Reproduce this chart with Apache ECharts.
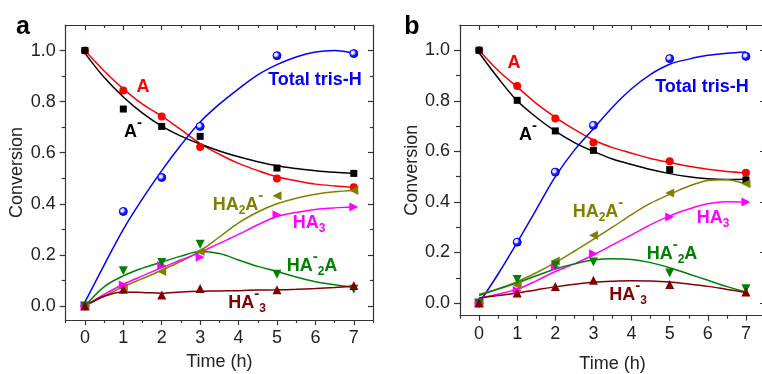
<!DOCTYPE html>
<html>
<head>
<meta charset="utf-8">
<script src="https://cdn.jsdelivr.net/npm/echarts@6/dist/echarts.min.js"></script>
<style>
  html, body { margin: 0; padding: 0; background: #fff; }
  #chart { width: 762px; height: 374px; }
</style>
</head>
<body>
<div id="chart"></div>
<script>
// 时间轴
const pointTime = [0, 1, 2, 3, 5, 7];
const fitTime = [0, 0.5, 1, 1.5, 2, 2.5, 3, 3.5, 4, 4.5, 5, 5.5, 6, 6.5, 7];
const xTicks = [0, 1, 2, 3, 4, 5, 6, 7];
const xMinorTicks = [-0.5, 0.5, 1.5, 2.5, 3.5, 4.5, 5.5, 6.5, 7.5];
const yTicks = [0, 0.2, 0.4, 0.6, 0.8, 1.0];
const yMinorTicks = [0.1, 0.3, 0.5, 0.7, 0.9];

// panel a: measured points
const aA = [1.0, 0.844, 0.742, 0.622, 0.499, 0.465];
const aAminus = [1.0, 0.771, 0.703, 0.664, 0.540, 0.519];
const aTris = [0.0, 0.370, 0.503, 0.703, 0.980, 0.988];
const aHA2A = [0.0, 0.07, 0.135, 0.213, 0.431, 0.452];
const aHA3 = [0.0, 0.082, 0.158, 0.191, 0.357, 0.387];
const aHAm2A = [0.0, 0.138, 0.17, 0.242, 0.124, 0.065];
const aHAm3 = [0.0, 0.065, 0.043, 0.068, 0.063, 0.080];

// panel a: fitted curves (read at half-hour steps)
const aFitA = [1.0, 0.92, 0.85, 0.79, 0.743, 0.69, 0.636, 0.594, 0.558, 0.53, 0.506, 0.49, 0.477, 0.47, 0.465];
const aFitAminus = [0.99, 0.895, 0.818, 0.755, 0.704, 0.665, 0.634, 0.607, 0.584, 0.565, 0.549, 0.538, 0.529, 0.523, 0.519];
const aFitTris = [0.015, 0.16, 0.30, 0.42, 0.53, 0.63, 0.72, 0.79, 0.85, 0.905, 0.945, 0.975, 0.994, 1.0, 0.99];
const aFitHA2A = [0.0, 0.038, 0.075, 0.107, 0.14, 0.175, 0.215, 0.27, 0.325, 0.368, 0.40, 0.422, 0.437, 0.447, 0.452];
const aFitHA3 = [0.0, 0.045, 0.085, 0.118, 0.15, 0.18, 0.21, 0.245, 0.28, 0.318, 0.35, 0.366, 0.378, 0.384, 0.387];
const aFitHAm2A = [0.0, 0.075, 0.118, 0.148, 0.172, 0.195, 0.213, 0.205, 0.18, 0.155, 0.135, 0.113, 0.095, 0.083, 0.073];
const aFitHAm3 = [0.0, 0.038, 0.055, 0.053, 0.05, 0.055, 0.058, 0.059, 0.06, 0.062, 0.063, 0.065, 0.068, 0.072, 0.077];

// panel b: measured points
const bA = [1.0, 0.859, 0.730, 0.635, 0.561, 0.516];
const bAminus = [1.0, 0.802, 0.681, 0.604, 0.528, 0.487];
const bTris = [0.0, 0.241, 0.518, 0.703, 0.967, 0.976];
const bHA2A = [0.0, 0.07, 0.166, 0.268, 0.435, 0.472];
const bHA3 = [0.0, 0.05, 0.143, 0.195, 0.340, 0.40];
const bHAm2A = [0.0, 0.093, 0.15, 0.162, 0.119, 0.057];
const bHAm3 = [0.0, 0.040, 0.066, 0.090, 0.073, 0.044];

// panel b: fitted curves
const bFitA = [1.0, 0.92, 0.855, 0.79, 0.735, 0.687, 0.645, 0.615, 0.593, 0.572, 0.556, 0.541, 0.529, 0.52, 0.515];
const bFitAminus = [0.99, 0.89, 0.80, 0.735, 0.68, 0.635, 0.60, 0.57, 0.548, 0.528, 0.512, 0.50, 0.492, 0.489, 0.49];
const bFitTris = [0.0, 0.115, 0.24, 0.37, 0.50, 0.605, 0.69, 0.775, 0.848, 0.905, 0.945, 0.965, 0.98, 0.988, 0.993];
const bFitHA2A = [0.035, 0.057, 0.085, 0.12, 0.16, 0.205, 0.252, 0.30, 0.35, 0.395, 0.43, 0.462, 0.485, 0.488, 0.47];
const bFitHA3 = [0.02, 0.035, 0.055, 0.088, 0.125, 0.155, 0.19, 0.23, 0.27, 0.31, 0.345, 0.372, 0.393, 0.401, 0.40];
const bFitHAm2A = [0.03, 0.055, 0.08, 0.108, 0.135, 0.155, 0.17, 0.175, 0.172, 0.16, 0.14, 0.115, 0.09, 0.065, 0.044];
const bFitHAm3 = [0.02, 0.03, 0.04, 0.052, 0.064, 0.074, 0.082, 0.086, 0.088, 0.087, 0.083, 0.075, 0.066, 0.054, 0.042];

const FONT = '"Liberation Sans", Arial, sans-serif';
const AXIS = '#333';

// 样式
const blueBall = {
  type: 'radial', x: 0.38, y: 0.38, r: 0.62,
  colorStops: [
    { offset: 0, color: '#ffffff' },
    { offset: 0.3, color: '#d8d8ff' },
    { offset: 0.55, color: '#2020ff' },
    { offset: 1, color: '#0000c8' }
  ]
};
const species = [
  { key: 'A', color: '#ff0000', symbol: 'circle', rotate: 0, size: 8 },
  { key: 'Aminus', color: '#000000', symbol: 'rect', rotate: 0, size: 7 },
  { key: 'Tris', color: '#0000ff', fill: blueBall, symbol: 'circle', rotate: 0, size: 8 },
  { key: 'HA2A', color: '#808000', symbol: 'triangle', rotate: 90, size: 9 },
  { key: 'HA3', color: '#ff00ff', symbol: 'triangle', rotate: -90, size: 9 },
  { key: 'HAm2A', color: '#008000', symbol: 'triangle', rotate: 180, size: 9 },
  { key: 'HAm3', color: '#800000', symbol: 'triangle', rotate: 0, size: 9 }
];
const panelData = [
  {
    points: { A: aA, Aminus: aAminus, Tris: aTris, HA2A: aHA2A, HA3: aHA3, HAm2A: aHAm2A, HAm3: aHAm3 },
    fits: { A: aFitA, Aminus: aFitAminus, Tris: aFitTris, HA2A: aFitHA2A, HA3: aFitHA3, HAm2A: aFitHAm2A, HAm3: aFitHAm3 }
  },
  {
    points: { A: bA, Aminus: bAminus, Tris: bTris, HA2A: bHA2A, HA3: bHA3, HAm2A: bHAm2A, HAm3: bHAm3 },
    fits: { A: bFitA, Aminus: bFitAminus, Tris: bFitTris, HA2A: bFitHA2A, HA3: bFitHA3, HAm2A: bFitHAm2A, HAm3: bFitHAm3 }
  }
];

const panels = [
  { grid: { left: 65.7, top: 25, width: 307.3, height: 295 }, yMin: -0.055, xGap: 33, yGap: 40 },
  { grid: { left: 460, top: 25, width: 305, height: 290.7 }, yMin: -0.05, xGap: 39, yGap: 39 }
];

const grids = [];
const xAxes = [];
const yAxes = [];
const series = [];

const lineStyle = { color: AXIS, width: 1.2 };
const labelStyle = { fontSize: 18, color: '#222', fontFamily: FONT };

panels.forEach((p, pi) => {
  // 主网格 + 小刻度网格 (same rect)
  [true, false].forEach(major => {
    const g = grids.length;
    grids.push(Object.assign({ outerBoundsMode: 'none', containLabel: false }, p.grid));
    const xt = major ? xTicks : xMinorTicks;
    const yt = major ? yTicks : yMinorTicks;
    const len = major ? 5 : 3;
    xAxes.push({
      gridIndex: g, type: 'value', min: -0.5, max: 7.5, position: 'bottom',
      axisLine: { show: major, onZero: false, lineStyle },
      axisTick: { show: true, inside: false, length: len, customValues: xt, lineStyle },
      axisLabel: major ? Object.assign({ customValues: xTicks, margin: 9 }, labelStyle) : { show: false },
      splitLine: { show: false },
      name: major ? 'Time (h)' : '', nameLocation: 'middle', nameGap: p.xGap,
      nameTextStyle: labelStyle
    });
    xAxes.push({
      gridIndex: g, type: 'value', min: -0.5, max: 7.5, position: 'top',
      axisLine: { show: major, onZero: false, lineStyle },
      axisTick: { show: true, inside: true, length: len, customValues: xt, lineStyle },
      axisLabel: { show: false },
      splitLine: { show: false }
    });
    yAxes.push({
      gridIndex: g, type: 'value', min: p.yMin, max: 1.1, position: 'left',
      axisLine: { show: major, onZero: false, lineStyle },
      axisTick: { show: true, inside: false, length: len + 1, customValues: yt, lineStyle },
      axisLabel: major ? Object.assign({
        customValues: yTicks, margin: 10,
        formatter: v => v.toFixed(1)
      }, labelStyle) : { show: false },
      splitLine: { show: false },
      name: major ? 'Conversion' : '', nameLocation: 'middle', nameGap: p.yGap,
      nameTextStyle: labelStyle
    });
    yAxes.push({
      gridIndex: g, type: 'value', min: p.yMin, max: 1.1, position: 'right',
      axisLine: { show: major, onZero: false, lineStyle },
      axisTick: { show: true, inside: true, length: len, customValues: yt, lineStyle },
      axisLabel: { show: false },
      splitLine: { show: false }
    });
  });

  const axisIndex = pi * 4;
  const d = panelData[pi];
  species.forEach(s => {
    series.push({
      type: 'line', xAxisIndex: axisIndex, yAxisIndex: axisIndex,
      data: fitTime.map((t, i) => [t, d.fits[s.key][i]]),
      smooth: 0.35, showSymbol: false, silent: true, z: 2,
      lineStyle: { color: s.color, width: 1.5 }
    });
  });
  species.forEach(s => {
    series.push({
      type: 'scatter', xAxisIndex: axisIndex, yAxisIndex: axisIndex,
      data: pointTime.map((t, i) => [t, d.points[s.key][i]]),
      symbol: s.symbol, symbolRotate: s.rotate, symbolSize: s.size, z: 3,
      itemStyle: { color: s.fill || s.color, borderColor: s.color, borderWidth: s.fill ? 1 : 0, opacity: 1 }
    });
  });
});

// 曲线标签 (rich text for sub/superscripts)
function rich(color) {
  return {
    m: { fontSize: 18, fontWeight: 'bold', fontFamily: FONT, fill: color, verticalAlign: 'middle' },
    sub: { fontSize: 12, fontWeight: 'bold', fontFamily: FONT, fill: color, verticalAlign: 'middle', padding: [12, 0, 0, 0] },
    sup: { fontSize: 15, fontWeight: 'bold', fontFamily: FONT, fill: color, verticalAlign: 'middle', padding: [0, 0, 18, 0] }
  };
}
const labelText = {
  A: '{m|A}',
  Aminus: '{m|A}{sup|-}',
  Tris: '{m|Total tris-H}',
  HA2A: '{m|HA}{sub|2}{m|A}{sup|-}',
  HA3: '{m|HA}{sub|3}',
  HAm2A: '{m|HA}{sup|-}{sub|2}{m|A}',
  HAm3: '{m|HA}{sup|-}{sub|3}'
};
const labelPos = [
  { A: [143, 87], Aminus: [133, 132], Tris: [315, 80], HA2A: [238, 205], HA3: [309, 223], HAm2A: [312, 266], HAm3: [247, 303] },
  { A: [514, 63], Aminus: [528, 135], Tris: [702, 87], HA2A: [598, 212], HA3: [713, 218], HAm2A: [672, 254], HAm3: [628, 295] }
];
const graphic = [];
labelPos.forEach(pos => {
  species.forEach(s => {
    graphic.push({
      type: 'text', x: pos[s.key][0], y: pos[s.key][1], silent: true,
      style: { text: labelText[s.key], rich: rich(s.color), fill: s.color, align: 'center', verticalAlign: 'middle' }
    });
  });
});
[['a', 23, 27], ['b', 412, 27]].forEach(([t, x, y]) => {
  graphic.push({
    type: 'text', x, y, silent: true,
    style: { text: t, fontSize: 25, fontWeight: 'bold', fontFamily: FONT, fill: '#000', align: 'center', verticalAlign: 'middle' }
  });
});

const chart = echarts.init(document.getElementById('chart'));
chart.setOption({
  animation: false,
  backgroundColor: '#fff',
  grid: grids,
  xAxis: xAxes,
  yAxis: yAxes,
  series,
  graphic
});
</script>
</body>
</html>
